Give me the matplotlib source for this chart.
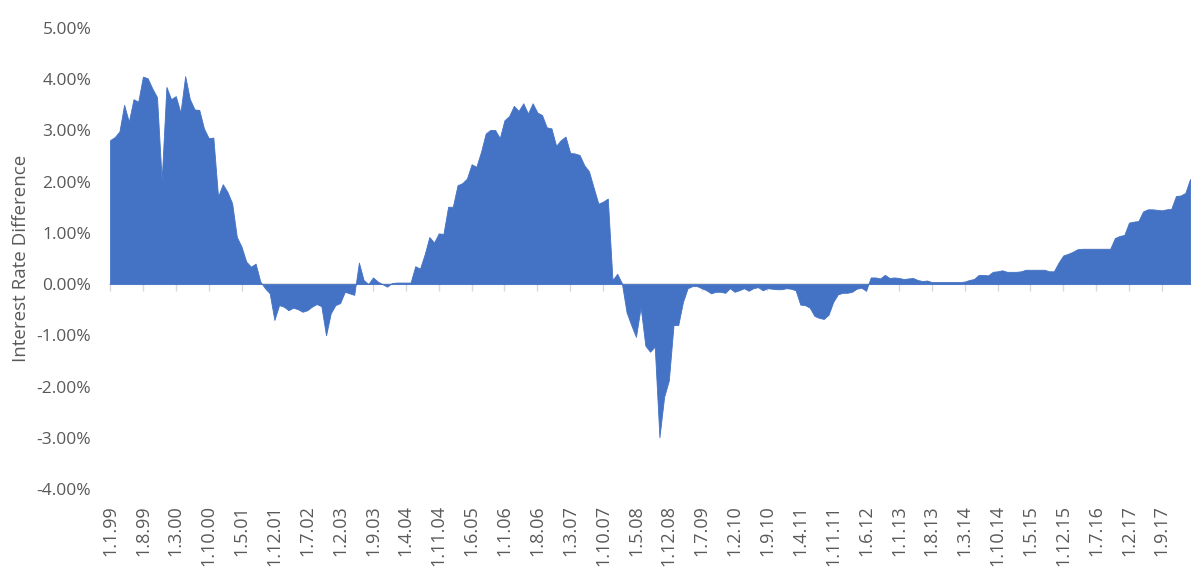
import numpy as np
import matplotlib.pyplot as plt
from matplotlib.ticker import FuncFormatter

# monthly interest rate difference (%), Jan 1999 onward
start_year = 1999
start_month = 1
diff = [
    2.81, 2.87, 2.98, 3.50, 3.17, 3.61, 3.56, 4.05, 4.02, 3.82,
    3.65, 2.03, 3.85, 3.61, 3.67, 3.35, 4.06, 3.61, 3.41, 3.40,
    3.04, 2.85, 2.86, 1.71, 1.95, 1.80, 1.58, 0.92, 0.73, 0.44,
    0.34, 0.40, 0.05, -0.08, -0.18, -0.70, -0.41, -0.44, -0.51, -0.46,
    -0.49, -0.54, -0.51, -0.44, -0.39, -0.43, -1.00, -0.57, -0.41, -0.37,
    -0.15, -0.18, -0.21, 0.42, 0.08, 0.00, 0.13, 0.05, 0.00, -0.05,
    0.02, 0.03, 0.03, 0.03, 0.03, 0.35, 0.30, 0.58, 0.92, 0.81,
    0.99, 0.98, 1.51, 1.51, 1.93, 1.97, 2.06, 2.34, 2.29, 2.58,
    2.94, 3.01, 3.01, 2.85, 3.20, 3.28, 3.48, 3.38, 3.53, 3.33,
    3.53, 3.35, 3.30, 3.06, 3.04, 2.70, 2.81, 2.88, 2.56, 2.55,
    2.52, 2.32, 2.20, 1.88, 1.57, 1.61, 1.67, 0.08, 0.20, 0.02,
    -0.55, -0.80, -1.03, -0.45, -1.20, -1.32, -1.22, -2.99, -2.20, -1.88,
    -0.80, -0.80, -0.35, -0.08, -0.04, -0.04, -0.08, -0.12, -0.18, -0.15,
    -0.15, -0.17, -0.08, -0.15, -0.12, -0.08, -0.13, -0.08, -0.06, -0.12,
    -0.08, -0.09, -0.10, -0.10, -0.08, -0.09, -0.12, -0.40, -0.41, -0.46,
    -0.62, -0.66, -0.68, -0.60, -0.35, -0.20, -0.17, -0.17, -0.15, -0.09,
    -0.07, -0.13, 0.13, 0.13, 0.11, 0.18, 0.12, 0.13, 0.12, 0.10,
    0.11, 0.12, 0.08, 0.06, 0.07, 0.04, 0.04, 0.04, 0.04, 0.04,
    0.04, 0.04, 0.05, 0.08, 0.10, 0.18, 0.18, 0.17, 0.24, 0.25,
    0.27, 0.24, 0.24, 0.24, 0.25, 0.28, 0.28, 0.28, 0.28, 0.28,
    0.25, 0.25, 0.42, 0.56, 0.59, 0.63, 0.68, 0.69, 0.69, 0.69,
    0.69, 0.69, 0.69, 0.69, 0.90, 0.94, 0.96, 1.20, 1.22, 1.23,
    1.42, 1.46, 1.46, 1.45, 1.44, 1.46, 1.47, 1.72, 1.73, 1.78,
    2.05,
]
label_step = 7  # a label every 7 months
y_ticks = [-4, -3, -2, -1, 0, 1, 2, 3, 4, 5]

x = np.arange(len(diff))
y = np.array(diff)

def month_label(i):
    m = start_month - 1 + i
    return f"1.{m % 12 + 1}.{(start_year + m // 12) % 100:02d}"

grey = '#595959'
plt.rcParams['font.family'] = ['Open Sans', 'DejaVu Sans']

fig = plt.figure(figsize=(12, 5.77), dpi=100)
ax = fig.add_axes([0.0917, 0.1525, 0.9, 0.799])

ax.fill_between(x, y, 0, color='#4472C4', linewidth=0.6, edgecolor='#4472C4')

ax.set_xlim(0, len(diff) - 1)
ax.set_ylim(-4, 5)
ax.set_yticks(y_ticks)
ax.yaxis.set_major_formatter(FuncFormatter(lambda v, p: f"{v:.2f}%"))
ax.tick_params(axis='y', length=0, pad=13.5, labelsize=12.5, labelcolor=grey)

ticks = x[::label_step]
ax.set_xticks(ticks)
ax.set_xticklabels([month_label(i) for i in ticks], rotation=90, va='top', ha='center')
ax.tick_params(axis='x', length=0, pad=11.5, labelsize=13, labelcolor=grey)

for s in ax.spines.values():
    s.set_visible(False)

# zero axis line with its tick marks
zero_pos = (0 - y_ticks[0]) / (y_ticks[-1] - y_ticks[0])
sec = ax.secondary_xaxis(zero_pos)
sec.set_xticks(ticks)
sec.set_xticklabels([])
sec.tick_params(axis='x', direction='out', length=5, width=1, color='#D9D9D9')
sec.spines['bottom'].set_color('#D9D9D9')
sec.spines['bottom'].set_linewidth(1.2)
for k in ['top', 'left', 'right']:
    sec.spines[k].set_visible(False)

ax.set_ylabel('Interest Rate Difference', fontsize=13.5, color=grey)
ax.yaxis.set_label_coords(-0.074, 0.5)

fig.savefig('out.png', dpi=100)
